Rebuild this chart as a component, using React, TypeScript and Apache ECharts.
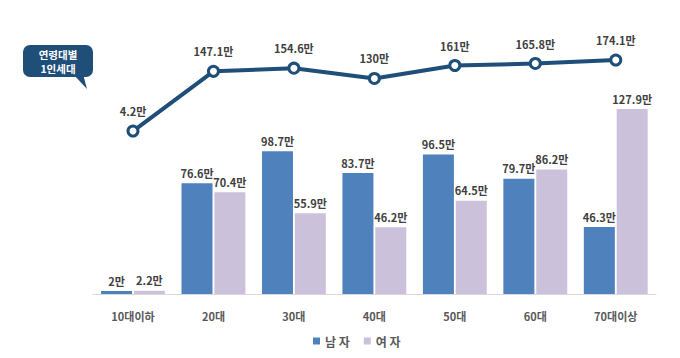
import React, { useEffect, useRef } from "react";
import * as echarts from "echarts";

const categories = ["10대이하", "20대", "30대", "40대", "50대", "60대", "70대이상"];
const maleValues = [2, 76.6, 98.7, 83.7, 96.5, 79.7, 46.3];
const femaleValues = [2.2, 70.4, 55.9, 46.2, 64.5, 86.2, 127.9];
const singleHouseholds = [4.2, 147.1, 154.6, 130, 161, 165.8, 174.1];
const seriesNames = ["남 자", "여 자"];
const calloutText = "연령대별\n1인세대";

const FONT = "'Noto Sans CJK KR', 'Noto Sans', sans-serif";

export default function App() {
  const ref = useRef<HTMLDivElement>(null);
  useEffect(() => {
    document.body.style.margin = "0";
    if (!ref.current) return;
    const chart = echarts.init(ref.current, undefined, { renderer: "svg" });
    const labelStyle = {
      show: true,
      position: "top" as const,
      distance: 5,
      color: "#404040",
      fontSize: 11,
      fontWeight: "bold" as const,
      fontFamily: FONT,
      formatter: (p: any) => `${p.value}만`,
    };
    chart.setOption({
      animation: false,
      backgroundColor: "#ffffff",
      textStyle: { fontFamily: FONT },
      grid: [
        { left: 92.75, right: 24, top: 91.6, bottom: 64 },
        { left: 92.75, right: 24, top: 49.2, bottom: 225.2 },
      ],
      xAxis: [
        {
          type: "category",
          gridIndex: 0,
          data: categories,
          axisLine: { lineStyle: { color: "#d9d9d9", width: 1 } },
          axisTick: { show: false },
          axisLabel: {
            color: "#595959",
            fontSize: 11,
            fontWeight: "bold",
            fontFamily: FONT,
            margin: 16,
          },
        },
        {
          type: "category",
          gridIndex: 1,
          data: categories,
          show: false,
        },
      ],
      yAxis: [
        { type: "value", gridIndex: 0, min: 0, max: 140, show: false },
        { type: "value", gridIndex: 1, min: 0, max: 200, show: false },
      ],
      legend: {
        data: seriesNames,
        bottom: 6,
        left: 308,
        icon: "rect",
        itemWidth: 7,
        itemHeight: 7,
        itemGap: 14,
        textStyle: { color: "#595959", fontSize: 12, fontWeight: "bold", fontFamily: FONT },
      },
      series: [
        {
          name: seriesNames[0],
          type: "bar",
          xAxisIndex: 0,
          yAxisIndex: 0,
          data: maleValues,
          barWidth: 31,
          barGap: "6%",
          itemStyle: { color: "#4F81BD" },
          label: labelStyle,
        },
        {
          name: seriesNames[1],
          type: "bar",
          xAxisIndex: 0,
          yAxisIndex: 0,
          data: femaleValues,
          barWidth: 31,
          barGap: "6%",
          itemStyle: { color: "#CCC1DA" },
          label: labelStyle,
        },
        {
          name: "1인세대",
          type: "line",
          xAxisIndex: 1,
          yAxisIndex: 1,
          data: singleHouseholds,
          symbol: "circle",
          symbolSize: 10,
          lineStyle: { color: "#1F4E79", width: 4 },
          itemStyle: { color: "#ffffff", borderColor: "#1F4E79", borderWidth: 3 },
          label: { ...labelStyle, distance: 8 },
          z: 5,
        },
      ],
      graphic: [
        {
          type: "group",
          left: 23,
          top: 45,
          children: [
            {
              type: "polygon",
              shape: { points: [[50, 29], [60, 29], [64, 44]] },
              style: { fill: "#1F4E79" },
            },
            {
              type: "rect",
              shape: { x: 0, y: 0, width: 70, height: 32, r: 7 },
              style: { fill: "#1F4E79" },
            },
            {
              type: "text",
              x: 35,
              y: 16,
              style: {
                text: calloutText,
                fill: "#ffffff",
                font: `bold 10.5px ${FONT}`,
                lineHeight: 14,
                align: "center",
                verticalAlign: "middle",
              },
            },
          ],
        },
      ],
    });
    return () => chart.dispose();
  }, []);
  return <div ref={ref} style={{ width: 680, height: 358 }} />;
}
